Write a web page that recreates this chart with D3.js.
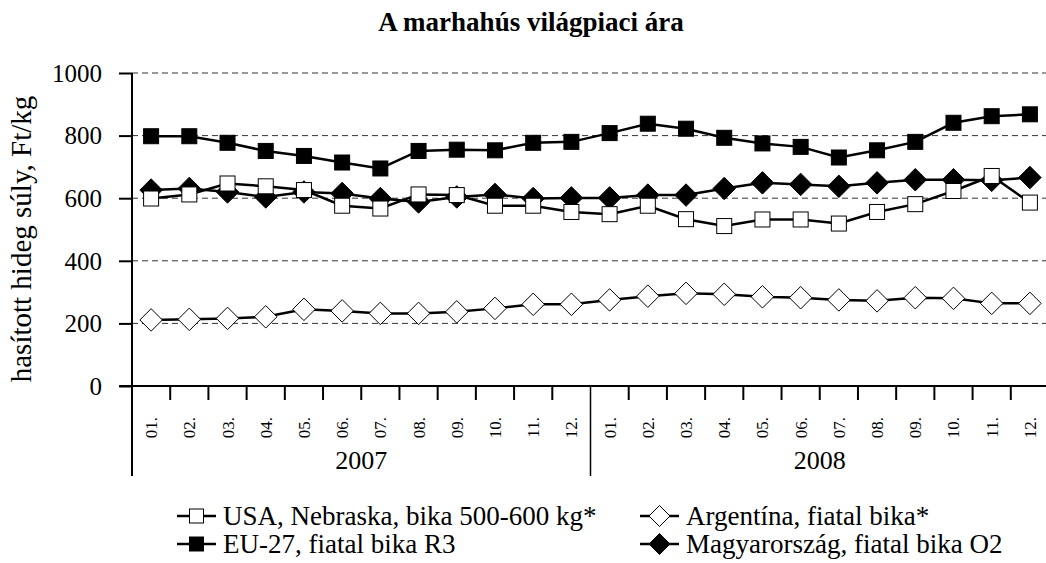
<!DOCTYPE html>
<html>
<head>
<meta charset="utf-8">
<script src="https://cdn.jsdelivr.net/npm/d3@7"></script>
<style>
  body { margin: 0; background: #fff; }
  svg text { font-family: "Liberation Serif", "Times New Roman", serif; fill: #000; }
</style>
</head>
<body>
<div id="chart"></div>
<script>
// data
const months = ['01.', '02.', '03.', '04.', '05.', '06.', '07.', '08.', '09.', '10.', '11.', '12.'];
const years = ['2007', '2008'];
const yTicks = [0, 200, 400, 600, 800, 1000];

const usa = [599, 612, 647, 638, 626, 576, 567, 612, 610, 576, 576, 556,
             549, 576, 533, 511, 532, 532, 519, 556, 581, 623, 671, 586];
const eu = [798, 798, 777, 751, 735, 714, 695, 751, 755, 753, 777, 780,
            808, 838, 822, 793, 775, 764, 730, 753, 780, 841, 862, 868];
const hun = [626, 631, 620, 604, 620, 615, 599, 588, 604, 612, 599, 601,
             601, 610, 610, 631, 649, 644, 638, 649, 659, 659, 657, 666];
const arg = [211, 213, 216, 221, 245, 240, 232, 232, 237, 248, 261, 261,
             275, 287, 296, 293, 285, 282, 275, 272, 282, 280, 264, 264];

const seriesNames = ['USA, Nebraska, bika 500-600 kg*', 'Argentína, fiatal bika*',
                     'EU-27, fiatal bika R3', 'Magyarország, fiatal bika O2'];

const W = 1046, H = 563;
const margin = { left: 132, top: 73, bottom: 386, right: 1049 };

const keys = [];
years.forEach(y => months.forEach(m => keys.push(y + '-' + m)));

const series = [
  { name: seriesNames[3], values: hun, shape: 'diamond', fill: '#000' },
  { name: seriesNames[2], values: eu, shape: 'square', fill: '#000' },
  { name: seriesNames[1], values: arg, shape: 'diamond', fill: '#fff' },
  { name: seriesNames[0], values: usa, shape: 'square', fill: '#fff' }
];

const svg = d3.select('#chart').append('svg')
  .attr('width', W)
  .attr('height', H);

const x = d3.scaleBand()
  .domain(keys)
  .range([margin.left, margin.right])
  .paddingInner(0).paddingOuter(0);

const y = d3.scaleLinear()
  .domain([0, 1000])
  .range([margin.bottom, margin.top]);

// title
svg.append('text')
  .attr('x', 531).attr('y', 31)
  .attr('text-anchor', 'middle')
  .attr('font-size', 27)
  .attr('font-weight', 'bold')
  .text('A marhahús világpiaci ára');

// y label
svg.append('text')
  .attr('transform', `translate(31,239) rotate(-90)`)
  .attr('text-anchor', 'middle')
  .attr('font-size', 29)
  .text('hasított hideg súly, Ft/kg');

// grid
svg.append('g')
  .selectAll('line')
  .data(yTicks.filter(d => d > 0))
  .join('line')
  .attr('x1', margin.left).attr('x2', W)
  .attr('y1', d => y(d)).attr('y2', d => y(d))
  .attr('stroke', '#333')
  .attr('stroke-width', 1)
  .attr('stroke-dasharray', '6,4');

// y axis
const yAxis = d3.axisLeft(y).tickValues(yTicks).tickSize(13).tickPadding(17).tickFormat(d3.format('d'));
const gy = svg.append('g')
  .attr('transform', `translate(${margin.left},0)`)
  .call(yAxis);
gy.select('.domain').remove();
gy.selectAll('.tick line').attr('stroke', '#000').attr('stroke-width', 2);
gy.selectAll('.tick text')
  .attr('font-size', 25)
  .attr('font-family', '"Liberation Serif", "Times New Roman", serif')
  .attr('dy', '0.33em');

svg.append('line')
  .attr('x1', margin.left).attr('x2', margin.left)
  .attr('y1', margin.top).attr('y2', 476)
  .attr('stroke', '#000').attr('stroke-width', 2);

// x axis
svg.append('line')
  .attr('x1', margin.left - 13).attr('x2', W)
  .attr('y1', margin.bottom).attr('y2', margin.bottom)
  .attr('stroke', '#000').attr('stroke-width', 2);

const bw = x.bandwidth();
svg.append('g')
  .selectAll('line')
  .data(keys.slice(1).filter((k, i) => i !== 11))
  .join('line')
  .attr('x1', d => x(d)).attr('x2', d => x(d))
  .attr('y1', margin.bottom).attr('y2', margin.bottom + 14)
  .attr('stroke', '#000').attr('stroke-width', 2);

// year separator
svg.append('line')
  .attr('x1', x(keys[12])).attr('x2', x(keys[12]))
  .attr('y1', margin.bottom).attr('y2', 476)
  .attr('stroke', '#000').attr('stroke-width', 1.5);

svg.append('g')
  .selectAll('text')
  .data(keys)
  .join('text')
  .attr('transform', d => `translate(${x(d) + bw / 2 + 6},${margin.bottom + 31}) rotate(-90)`)
  .attr('text-anchor', 'end')
  .attr('font-size', 17)
  .text(d => d.split('-')[1]);

svg.append('g')
  .selectAll('text')
  .data(years)
  .join('text')
  .attr('x', (d, i) => {
    const a = x(d + '-01.');
    const b = x(d + '-12.') + bw;
    return (a + b) / 2;
  })
  .attr('y', 469)
  .attr('text-anchor', 'middle')
  .attr('font-size', 26)
  .text(d => d);

// marks
const line = d3.line()
  .x((d, i) => x(keys[i]) + bw / 2)
  .y(d => y(d));

function drawMarker(g, shape, fill, cx, cy, size) {
  if (shape === 'square') {
    g.append('rect')
      .attr('x', cx - size / 2).attr('y', cy - size / 2)
      .attr('width', size).attr('height', size)
      .attr('fill', fill)
      .attr('stroke', '#000').attr('stroke-width', 1);
  } else {
    const r = size * 0.75;
    g.append('path')
      .attr('d', `M${cx},${cy - r}L${cx + r},${cy}L${cx},${cy + r}L${cx - r},${cy}Z`)
      .attr('fill', fill)
      .attr('stroke', '#000').attr('stroke-width', 1);
  }
}

series.forEach(s => {
  const g = svg.append('g');
  g.append('path')
    .datum(s.values)
    .attr('d', line)
    .attr('fill', 'none')
    .attr('stroke', '#000')
    .attr('stroke-width', 2.5);
  s.values.forEach((v, i) => {
    drawMarker(g, s.shape, s.fill, x(keys[i]) + bw / 2, y(v), 15);
  });
});

// legend
const legendItems = [
  { name: seriesNames[0], shape: 'square', fill: '#fff', lx: 177, ly: 516 },
  { name: seriesNames[1], shape: 'diamond', fill: '#fff', lx: 640, ly: 516 },
  { name: seriesNames[2], shape: 'square', fill: '#000', lx: 177, ly: 544 },
  { name: seriesNames[3], shape: 'diamond', fill: '#000', lx: 640, ly: 544 }
];

legendItems.forEach(d => {
  const g = svg.append('g');
  g.append('line')
    .attr('x1', d.lx).attr('x2', d.lx + 39)
    .attr('y1', d.ly).attr('y2', d.ly)
    .attr('stroke', '#000').attr('stroke-width', 2.5);
  drawMarker(g, d.shape, d.fill, d.lx + 19.5, d.ly, 14);
  g.append('text')
    .attr('x', d.lx + 46).attr('y', d.ly)
    .attr('dy', '0.33em')
    .attr('font-size', 27)
    .text(d.name);
});
</script>
</body>
</html>
